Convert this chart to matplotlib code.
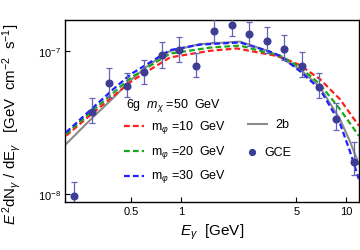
import numpy as np
import matplotlib
matplotlib.use('Agg')
import matplotlib.pyplot as plt

plt.rcParams['font.family'] = ['Liberation Sans', 'DejaVu Sans']
plt.rcParams['mathtext.fontset'] = 'custom'
plt.rcParams['mathtext.rm'] = 'Liberation Sans'
plt.rcParams['mathtext.it'] = 'Liberation Sans:italic'
plt.rcParams['mathtext.bf'] = 'Liberation Sans:bold'

# GCE data points
gce_E = [0.225, 0.289, 0.366, 0.471, 0.597, 0.767, 0.972, 1.23, 1.585, 2.04,
         2.58, 3.32, 4.21, 5.41, 6.86, 8.7, 11.2]
gce_y = [9.68e-9, 3.77e-8, 5.97e-8, 5.72e-8, 7.10e-8, 9.38e-8, 1.017e-7, 7.89e-8,
         1.387e-7, 1.528e-7, 1.315e-7, 1.18e-7, 1.033e-7, 7.81e-8, 5.63e-8,
         3.37e-8, 1.667e-8]
gce_lo = [7.73e-9, 3.14e-8, 4.79e-8, 4.74e-8, 5.85e-8, 7.57e-8, 8.41e-8, 6.61e-8,
          1.15e-7, 1.267e-7, 1.089e-7, 9.63e-8, 8.65e-8, 6.55e-8, 4.67e-8,
          2.81e-8, 1.358e-8]
gce_hi = [1.213e-8, 4.69e-8, 7.57e-8, 7.05e-8, 8.69e-8, 1.161e-7, 1.247e-7, 9.68e-8,
          1.675e-7, 1.845e-7, 1.595e-7, 1.466e-7, 1.288e-7, 9.79e-8, 6.98e-8,
          4.31e-8, 2.30e-8]

# model spectra
red_E = [0.2009, 0.3011, 0.5047, 0.8576, 1.499, 2.185, 3.320, 3.981, 5.262, 6.958, 9.196, 11.99]
red_y = [2.557e-8, 3.805e-8, 6.198e-8, 9.035e-8, 1.005e-7, 1.044e-7, 9.528e-8, 9.153e-8,
         7.982e-8, 6.370e-8, 4.616e-8, 3.003e-8]

green_E = [0.2009, 0.3011, 0.4977, 0.8576, 1.499, 2.279, 3.320, 3.981, 5.262, 6.958, 9.196, 11.99]
green_y = [2.628e-8, 3.961e-8, 6.526e-8, 9.605e-8, 1.058e-7, 1.093e-7, 9.761e-8, 9.301e-8,
           7.729e-8, 5.878e-8, 3.929e-8, 2.557e-8]

blue_E = [0.2009, 0.3011, 0.3890, 0.4977, 0.8576, 1.304, 2.279, 3.462, 3.981, 5.262,
          6.958, 9.196, 10.57, 11.99]
blue_y = [2.700e-8, 4.145e-8, 5.423e-8, 6.906e-8, 1.016e-7, 1.110e-7, 1.150e-7, 9.920e-8,
          9.271e-8, 7.246e-8, 5.423e-8, 3.137e-8, 1.999e-8, 1.273e-8]

gray_E = [0.2009, 0.2809, 0.3818, 0.5047, 0.6488, 0.8576, 1.304, 2.279, 3.462, 5.262,
          6.958, 9.196, 10.57, 11.99]
gray_y = [2.238e-8, 3.293e-8, 4.616e-8, 6.370e-8, 8.112e-8, 1.0e-7, 1.119e-7, 1.165e-7,
          9.920e-8, 7.482e-8, 5.601e-8, 3.345e-8, 2.348e-8, 1.622e-8]

xticks = [0.5, 1, 5, 10]
xticklabels = ['0.5', '1', '5', '10']
yticks = [1e-8, 1e-7]
yticklabels = [r'$10^{-8}$', r'$10^{-7}$']

c_red = '#ff1f1f'
c_green = '#1aa81a'
c_blue = '#1f1fff'
c_gray = '#8c8c8c'
c_pt = '#3d3d96'
c_err = '#6464b4'

fig = plt.figure(figsize=(3.6, 2.51), dpi=100)
ax = fig.add_axes([0.1806, 0.1912, 0.8164, 0.7251])

ax.plot(gray_E, gray_y, color=c_gray, lw=1.5, zorder=2)
dash = (2.6, 1.4)
ax.plot(red_E, red_y, color=c_red, lw=1.6, dashes=dash, zorder=3)
ax.plot(green_E, green_y, color=c_green, lw=1.6, dashes=dash, zorder=3)
ax.plot(blue_E, blue_y, color=c_blue, lw=1.6, dashes=dash, zorder=3)

gy = np.array(gce_y)
yerr = [gy - np.array(gce_lo), np.array(gce_hi) - gy]
ax.errorbar(gce_E, gce_y, yerr=yerr, fmt='none', ecolor=c_err, elinewidth=0.9,
            capsize=2.2, capthick=0.9, zorder=4)
ax.plot(gce_E, gce_y, 'o', color=c_pt, ms=4.8, mec=c_pt, zorder=5)

ax.set_xscale('log')
ax.set_yscale('log')
ax.set_xlim(0.198, 12.0)
ax.set_ylim(8.8e-9, 1.65e-7)
ax.set_xticks(xticks)
ax.set_xticklabels(xticklabels)
ax.set_yticks(yticks)
ax.set_yticklabels(yticklabels)
ax.minorticks_off()
ax.tick_params(direction='in', length=3.5, width=0.8, labelsize=8, pad=3)
for s in ax.spines.values():
    s.set_linewidth(1.0)

ax.set_xlabel(r'$E_\gamma$  [GeV]', fontsize=11, labelpad=4)
ax.set_ylabel(r'$E^{\,2}$dN$_\gamma$ / dE$_\gamma$   [GeV  cm$^{-2}$  s$^{-1}$]',
              fontsize=10.8)
ax.yaxis.set_label_coords(-0.143, 0.434)

# legend, drawn by hand
tr = ax.transAxes
ax.text(0.2065, 0.538, r'6g  $m_\chi$ =50  GeV', transform=tr, fontsize=9, va='center')
rows = [(c_red, 0.4176, '10'), (c_green, 0.280, '20'), (c_blue, 0.143, '30')]
for c, yy, v in rows:
    ax.plot([0.2007, 0.269], [yy, yy], color=c, lw=1.6, dashes=dash, transform=tr,
            clip_on=False)
    ax.text(0.2925, yy, r'm$_\varphi$ =' + v + '  GeV', transform=tr, fontsize=9,
            va='center')
ax.plot([0.622, 0.687], [0.4286, 0.4286], color=c_gray, lw=1.5, transform=tr)
ax.text(0.714, 0.4286, '2b', transform=tr, fontsize=9, va='center')
ax.plot([0.635], [0.2747], 'o', color=c_pt, ms=4.2, transform=tr)
ax.text(0.68, 0.2747, 'GCE', transform=tr, fontsize=9, va='center')

fig.savefig('out.png', dpi=100)
